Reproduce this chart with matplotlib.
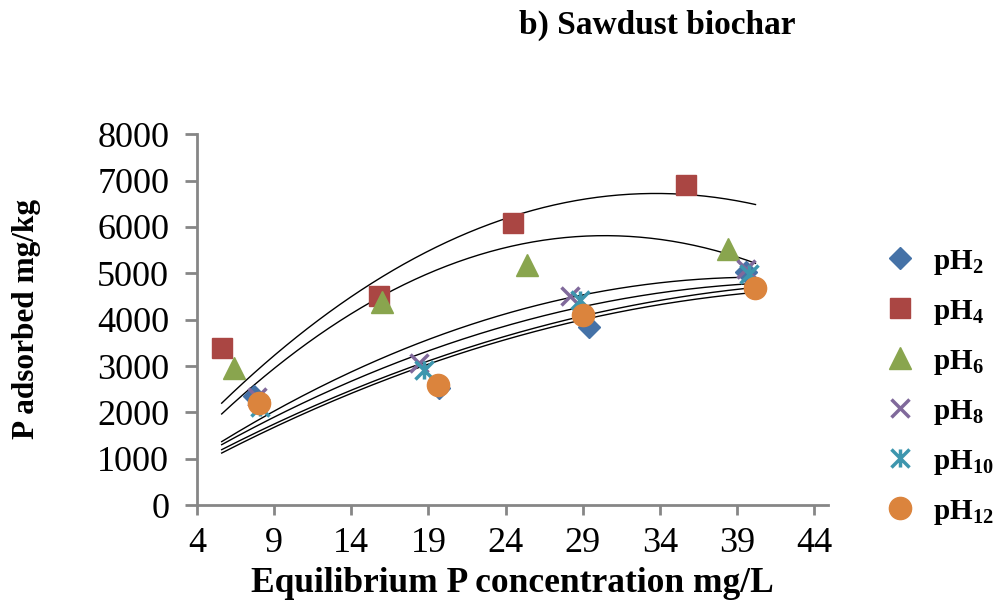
import matplotlib
matplotlib.use("Agg")
import matplotlib.pyplot as plt
import numpy as np
from matplotlib.path import Path

plt.rcParams['font.family'] = ['Liberation Serif', 'DejaVu Serif']
plt.rcParams['mathtext.fontset'] = 'custom'
plt.rcParams['mathtext.rm'] = 'Liberation Serif:bold'
plt.rcParams['mathtext.it'] = 'Liberation Serif:bold'
plt.rcParams['mathtext.bf'] = 'Liberation Serif:bold'

# measured points (equilibrium P mg/L, P adsorbed mg/kg)
ph2_x = [7.7, 19.7, 29.4, 39.6]
ph2_y = [2350, 2530, 3850, 5030]
ph4_x = [5.6, 15.8, 24.5, 35.7]
ph4_y = [3390, 4505, 6085, 6900]
ph6_x = [6.4, 16.0, 25.4, 38.4]
ph6_y = [2950, 4380, 5170, 5530]
ph8_x = [7.9, 18.4, 28.2, 39.6]
ph8_y = [2330, 3070, 4505, 5100]
ph10_x = [8.1, 18.7, 28.8, 39.8]
ph10_y = [2120, 2910, 4430, 4990]
ph12_x = [8.0, 19.6, 29.0, 40.2]
ph12_y = [2200, 2590, 4110, 4680]

labels = ["pH$_{2}$", "pH$_{4}$", "pH$_{6}$", "pH$_{8}$", "pH$_{10}$", "pH$_{12}$"]

# polynomial trendlines, points
trend4_x = [5.6, 8.7, 12.0, 15.2, 18.5, 21.7, 26.2, 32.7, 40.2]
trend4_y = [2155, 3196, 4058, 4812, 5316, 5780, 6420, 6840, 6430]
trend6_x = [5.6, 12.0, 16.1, 21.7, 26.2, 30.6, 34.9, 37.7, 40.2]
trend6_y = [1940, 3713, 4562, 5352, 5675, 5780, 5690, 5470, 5244]
trend_low_x = [5.6, 18.46, 26.24, 40.2]
trend_a_y = [1365, 3520, 4310, 4920]
trend_b_y = [1293, 3305, 4023, 4791]
trend_c_y = [1185, 3090, 3808, 4705]
trend_d_y = [1113, 3017, 3735, 4597]

star = Path([(-1, -1), (1, 1), (-1, 1), (1, -1), (0, -1), (0, 1)],
            [Path.MOVETO, Path.LINETO, Path.MOVETO, Path.LINETO, Path.MOVETO, Path.LINETO])

fig = plt.figure(figsize=(10, 6.02), dpi=100)
ax = fig.add_axes([0.197, 0.161, 0.631, 0.616])

# trendlines
for tx, ty in [(trend4_x, trend4_y), (trend6_x, trend6_y),
               (trend_low_x, trend_a_y), (trend_low_x, trend_b_y),
               (trend_low_x, trend_c_y), (trend_low_x, trend_d_y)]:
    coef = np.polyfit(tx, ty, 2)
    xs = np.linspace(min(tx), max(tx), 200)
    ax.plot(xs, np.polyval(coef, xs), color="black", lw=1.0, zorder=3)

h = []
h += ax.plot(ph2_x, ph2_y, ls="none", marker="D", ms=11.5, color="#4572A7", zorder=4)
h += ax.plot(ph4_x, ph4_y, ls="none", marker="s", ms=15, color="#AA4643", zorder=4)
h += ax.plot(ph6_x, ph6_y, ls="none", marker="^", ms=16, color="#89A54E", zorder=4)
h += ax.plot(ph8_x, ph8_y, ls="none", marker="x", ms=13, mew=2.5, color="#80699B", zorder=4)
h += ax.plot(ph10_x, ph10_y, ls="none", marker=star, ms=13, mew=2.5, color="#3D96AE", zorder=4)
h += ax.plot(ph12_x, ph12_y, ls="none", marker="o", ms=16, color="#DB843D", zorder=4)

ax.set_xlim(4, 44.9)
ax.set_ylim(0, 8000)
ax.set_xticks(np.arange(4, 45, 5))
ax.set_yticks(np.arange(0, 8001, 1000))
for s in ["top", "right"]:
    ax.spines[s].set_visible(False)
for s in ["left", "bottom"]:
    ax.spines[s].set_color("#868686")
    ax.spines[s].set_linewidth(2)
ax.tick_params(axis="x", direction="out", length=7, width=2, color="#868686", pad=9, labelsize=26)
ax.tick_params(axis="y", direction="out", length=9, width=2, color="#868686", pad=11, labelsize=26)

fig.text(0.512, 1 - 583 / 602, "Equilibrium P concentration mg/L", ha="center", va="center",
         fontsize=25.5, fontweight="bold")
fig.text(0.027, 0.47, "P adsorbed mg/kg", ha="center", va="center", rotation=90,
         fontsize=22.5, fontweight="bold")
fig.text(0.657, 0.958, "b) Sawdust biochar", ha="center", va="center",
         fontsize=24, fontweight="bold")

leg = fig.legend(h, labels, loc="center left", bbox_to_anchor=(0.885, 0.357), frameon=False,
                 prop={"size": 21, "weight": "bold"}, handlelength=1.0, handletextpad=0.65,
                 labelspacing=0.72, borderpad=0, borderaxespad=0)

fig.savefig("out.png", dpi=100)
